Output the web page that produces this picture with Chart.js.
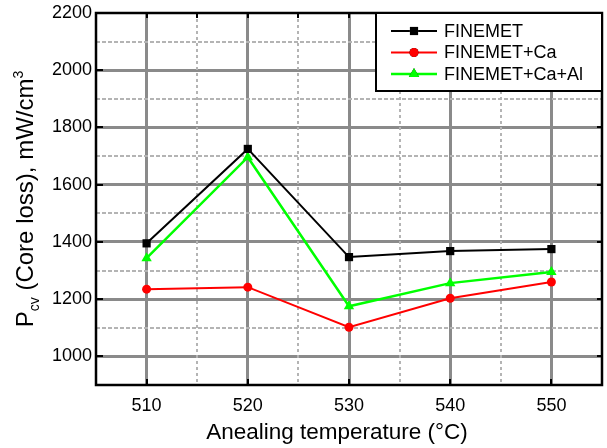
<!DOCTYPE html>
<html lang="en">
<head>
  <meta charset="UTF-8">
  <title>Core loss vs annealing temperature</title>
  <script src="https://cdn.jsdelivr.net/npm/chart.js"></script>
  <style>
    html, body { margin: 0; padding: 0; background: #fff; }
    canvas { display: block; }
  </style>
</head>
<body>
  <canvas id="lossChart" width="607" height="448"></canvas>

  <script>
    // values
    const temps = [510, 520, 530, 540, 550];
    const finemet = [1395, 1725, 1347, 1368, 1375];
    const finemetCa = [1235, 1242, 1102, 1203, 1260];
    const finemetCaAl = [1343, 1696, 1175, 1256, 1295];
    const seriesNames = ['FINEMET', 'FINEMET+Ca', 'FINEMET+Ca+Al'];
    const xTickLabels = [510, 520, 530, 540, 550];
    const yTickLabels = [1000, 1200, 1400, 1600, 1800, 2000, 2200];

    const FONT = '"Liberation Sans", Arial, sans-serif';
    const MAJOR = '#8a8a8a';
    const MINOR = '#b4b4b4';

    const toPoints = vals => temps.map((t, i) => ({ x: t, y: vals[i] }));

    const isMajorX = v => xTickLabels.includes(v);
    const isMajorY = v => yTickLabels.includes(v);

    // dotted minor grid, inward ticks, frame, titles and the boxed legend
    const framePlugin = {
      id: 'frame',
      beforeDatasetsDraw(chart) {
        const { ctx, chartArea: a, scales: { x, y } } = chart;
        ctx.save();
        ctx.strokeStyle = MINOR;
        ctx.lineWidth = 2;
        ctx.setLineDash([3, 3]);
        x.ticks.forEach(t => {
          if (isMajorX(t.value) || t.value <= x.min || t.value >= x.max) return;
          const px = Math.round(x.getPixelForValue(t.value));
          ctx.beginPath();
          ctx.moveTo(px, a.top);
          ctx.lineTo(px, a.bottom);
          ctx.stroke();
        });
        ctx.setLineDash([4, 2]);
        y.ticks.forEach(t => {
          if (isMajorY(t.value) || t.value <= y.min || t.value >= y.max) return;
          const py = Math.round(y.getPixelForValue(t.value));
          ctx.beginPath();
          ctx.moveTo(a.left, py);
          ctx.lineTo(a.right, py);
          ctx.stroke();
        });
        ctx.restore();
      },
      afterDraw(chart) {
        const { ctx, chartArea: a, scales: { x, y } } = chart;
        ctx.save();

        // inward ticks
        ctx.strokeStyle = '#000';
        ctx.lineWidth = 2;
        x.ticks.forEach(t => {
          const px = Math.round(x.getPixelForValue(t.value));
          if (t.value <= x.min || t.value >= x.max) return;
          ctx.beginPath();
          ctx.moveTo(px, a.top);
          ctx.lineTo(px, a.top + 5);
          if (isMajorX(t.value)) {
            ctx.moveTo(px, a.bottom);
            ctx.lineTo(px, a.bottom - 6);
          }
          ctx.stroke();
        });
        y.ticks.forEach(t => {
          if (!isMajorY(t.value) || t.value >= y.max) return;
          const py = Math.round(y.getPixelForValue(t.value));
          ctx.beginPath();
          ctx.moveTo(a.left, py);
          ctx.lineTo(a.left + 7, py);
          ctx.moveTo(a.right, py);
          ctx.lineTo(a.right - 5, py);
          ctx.stroke();
        });

        // frame
        ctx.lineWidth = 2.5;
        ctx.strokeRect(a.left, a.top, a.right - a.left, a.bottom - a.top);

        // legend box
        const lw = 226, lh = 78;
        const lx = a.right - lw, ly = a.top;
        ctx.fillStyle = '#fff';
        ctx.fillRect(lx, ly, lw, lh);
        ctx.lineWidth = 2;
        ctx.strokeRect(lx, ly, lw, lh);
        ctx.font = '18px ' + FONT;
        ctx.textBaseline = 'middle';
        chart.data.datasets.forEach((ds, i) => {
          const cy = ly + 18 + i * 21.5;
          ctx.strokeStyle = ds.borderColor;
          ctx.lineWidth = ds.borderWidth;
          ctx.beginPath();
          ctx.moveTo(lx + 15, cy);
          ctx.lineTo(lx + 61, cy);
          ctx.stroke();
          Chart.helpers.drawPoint(ctx, {
            pointStyle: ds.pointStyle,
            radius: ds.pointRadius,
            borderWidth: ds.pointBorderWidth,
            rotation: 0
          }, lx + 38, cy);
          ctx.fillStyle = ds.pointBackgroundColor;
          ctx.strokeStyle = ds.borderColor;
          ctx.fill();
          ctx.fillStyle = '#000';
          ctx.fillText(ds.label, lx + 68, cy + 1);
        });

        // x axis title
        ctx.fillStyle = '#000';
        ctx.font = '22.5px ' + FONT;
        ctx.textBaseline = 'alphabetic';
        ctx.textAlign = 'center';
        ctx.fillText('Anealing temperature (\u00B0C)', (a.left + a.right) / 2 - 12, 439);

        // y axis title with subscript and superscript
        const parts = [
          { t: 'P', size: 24, dy: 0 },
          { t: 'cv', size: 14, dy: 6 },
          { t: ' (Core loss), mW/cm', size: 24, dy: 0 },
          { t: '3', size: 14, dy: -10 }
        ];
        let total = 0;
        parts.forEach(p => {
          ctx.font = p.size + 'px ' + FONT;
          p.w = ctx.measureText(p.t).width;
          total += p.w;
        });
        ctx.translate(33, 199);
        ctx.rotate(-Math.PI / 2);
        ctx.textAlign = 'left';
        let cx = -total / 2;
        parts.forEach(p => {
          ctx.font = p.size + 'px ' + FONT;
          ctx.fillText(p.t, cx, p.dy);
          cx += p.w;
        });

        ctx.restore();
      }
    };

    const ctx = document.getElementById('lossChart').getContext('2d');
    new Chart(ctx, {
      type: 'line',
      data: {
        datasets: [
          {
            label: seriesNames[0],
            data: toPoints(finemet),
            borderColor: '#000000',
            backgroundColor: '#000000',
            pointBackgroundColor: '#000000',
            borderWidth: 2,
            pointStyle: 'rect',
            pointRadius: 5.8,
            pointBorderWidth: 0
          },
          {
            label: seriesNames[1],
            data: toPoints(finemetCa),
            borderColor: '#ff0000',
            backgroundColor: '#ff0000',
            pointBackgroundColor: '#ff0000',
            borderWidth: 2,
            pointStyle: 'circle',
            pointRadius: 4.5,
            pointBorderWidth: 0
          },
          {
            label: seriesNames[2],
            data: toPoints(finemetCaAl),
            borderColor: '#00ff00',
            backgroundColor: '#00ff00',
            pointBackgroundColor: '#00ff00',
            borderWidth: 2.5,
            pointStyle: 'triangle',
            pointRadius: 6,
            pointBorderWidth: 0
          }
        ]
      },
      options: {
        responsive: false,
        animation: false,
        layout: { autoPadding: false, padding: { top: 13, right: 5, left: 0, bottom: 0 } },
        plugins: {
          legend: { display: false },
          tooltip: { enabled: false }
        },
        scales: {
          x: {
            type: 'linear',
            min: 505,
            max: 555,
            afterFit: s => { s.height = 63; s.paddingLeft = 0; s.paddingRight = 0; },
            border: { display: false },
            grid: {
              drawTicks: false,
              lineWidth: 3,
              color: c => (c.tick && isMajorX(c.tick.value) ? MAJOR : 'rgba(0,0,0,0)')
            },
            ticks: {
              stepSize: 5,
              padding: 10,
              color: '#000',
              font: { family: FONT, size: 18 },
              callback: v => (isMajorX(v) ? String(v) : '')
            }
          },
          y: {
            min: 900,
            max: 2200,
            afterFit: s => { s.width = 96; s.paddingTop = 0; s.paddingBottom = 0; },
            border: { display: false },
            grid: {
              drawTicks: false,
              lineWidth: 3,
              color: c => (c.tick && isMajorY(c.tick.value) && c.tick.value < 2200 ? MAJOR : 'rgba(0,0,0,0)')
            },
            ticks: {
              stepSize: 100,
              padding: 4,
              color: '#000',
              font: { family: FONT, size: 18 },
              callback: v => (isMajorY(v) ? String(v) : '')
            }
          }
        }
      },
      plugins: [framePlugin]
    });
  </script>
</body>
</html>
